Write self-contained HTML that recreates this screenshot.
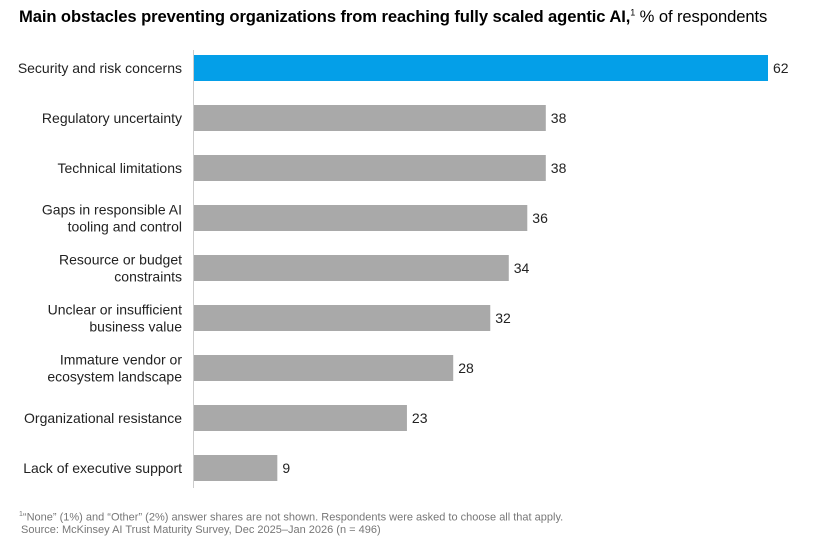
<!DOCTYPE html>
<html><head><meta charset="utf-8"><style>
body{margin:0;background:#fff;font-family:"Liberation Sans",sans-serif;}
#wrap{position:relative;width:814px;height:557px;overflow:hidden;}
.title{position:absolute;left:19px;top:7px;font-size:16.6px;color:#000;white-space:nowrap;letter-spacing:-0.1px}
.title b{font-weight:bold}
.foot{position:absolute;left:19px;font-size:11px;color:#777;white-space:nowrap}
</style></head><body>
<div id="wrap">
<div class="title"><b>Main obstacles preventing organizations from reaching fully scaled agentic AI,</b><sup style="font-size:9px">1</sup> % of respondents</div>
<svg id="svg" width="814" height="557" style="position:absolute;left:0;top:0"></svg>
<div class="foot" style="top:511px"><sup style="font-size:7px">1</sup>“None” (1%) and “Other” (2%) answer shares are not shown. Respondents were asked to choose all that apply.</div>
<div class="foot" style="top:524px;left:21px">Source: McKinsey AI Trust Maturity Survey, Dec 2025–Jan 2026 (n = 496)</div>
</div>
<script>
const categories=[["Security and risk concerns"],["Regulatory uncertainty"],["Technical limitations"],["Gaps in responsible AI","tooling and control"],["Resource or budget","constraints"],["Unclear or insufficient","business value"],["Immature vendor or","ecosystem landscape"],["Organizational resistance"],["Lack of executive support"]];
const values=[62,38,38,36,34,32,28,23,9];
const svg=document.getElementById('svg');
const NS='http://www.w3.org/2000/svg';
const x0=194, pxPer=(768-194)/62;
const xScale=v=>x0+v*pxPer;
const yCenter=i=>68+i*50;
function mk(t,a){const e=document.createElementNS(NS,t);for(const k in a)e.setAttribute(k,a[k]);svg.appendChild(e);return e;}
values.forEach((v,i)=>{
 const r=mk('rect',{x:x0,y:yCenter(i)-13,width:xScale(v)-x0,height:26,fill:i===0?'#049fe8':'#a9a9a9'});
 
 
 const t=mk('text',{x:xScale(v)+5,y:yCenter(i)+5,'font-size':14,fill:'#222'});
 t.textContent=v;
 
 
 const lines=categories[i];
 lines.forEach((ln,j)=>{
  const l=mk('text',{x:182,y:yCenter(i)+5+(j-(lines.length-1)/2)*17,'font-size':14,fill:'#222','text-anchor':'end'});
  l.textContent=ln;
  
  
 });
});
const ax=mk('line',{x1:193.5,x2:193.5,y1:50,y2:488,stroke:'#ccc','stroke-width':1});


</script>
</body></html>
